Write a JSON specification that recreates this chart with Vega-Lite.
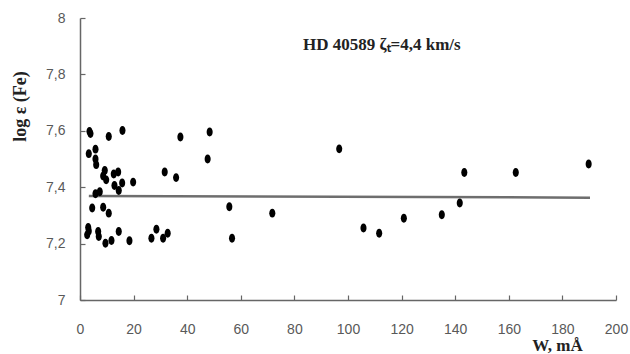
{
  "$schema": "https://vega.github.io/schema/vega-lite/v6.json",
  "width": 536,
  "height": 282,
  "autosize": "none",
  "padding": {"left": 80, "top": 18, "right": 14, "bottom": 54},
  "background": "white",
  "config": {"view": {"stroke": null}, "axis": {"grid": false}},
  "title": {
    "text": "HD 40589 ζₜ=4,4 km/s",
    "anchor": "start",
    "frame": "group",
    "dx": 223,
    "offset": -56,
    "baseline": "alphabetic",
    "font": "Liberation Serif",
    "fontSize": 17,
    "fontWeight": "bold",
    "color": "#222222"
  },
  "datasets": {
    "points": [
      {"w": 3.54, "loge": 7.598}, {"w": 3.91, "loge": 7.590}, {"w": 10.73, "loge": 7.580}, {"w": 15.84, "loge": 7.601},
      {"w": 3.28, "loge": 7.519}, {"w": 5.78, "loge": 7.535}, {"w": 5.78, "loge": 7.500}, {"w": 6.04, "loge": 7.480},
      {"w": 9.24, "loge": 7.459}, {"w": 8.65, "loge": 7.440}, {"w": 9.77, "loge": 7.426}, {"w": 12.60, "loge": 7.447},
      {"w": 14.24, "loge": 7.454}, {"w": 19.83, "loge": 7.418}, {"w": 12.86, "loge": 7.406}, {"w": 15.73, "loge": 7.415},
      {"w": 14.46, "loge": 7.388}, {"w": 5.78, "loge": 7.377}, {"w": 7.38, "loge": 7.384}, {"w": 31.61, "loge": 7.454},
      {"w": 4.55, "loge": 7.326}, {"w": 8.65, "loge": 7.329}, {"w": 10.73, "loge": 7.308}, {"w": 3.06, "loge": 7.257},
      {"w": 3.28, "loge": 7.245}, {"w": 2.68, "loge": 7.231}, {"w": 6.78, "loge": 7.243}, {"w": 7.01, "loge": 7.225},
      {"w": 9.50, "loge": 7.201}, {"w": 11.74, "loge": 7.211}, {"w": 14.46, "loge": 7.243}, {"w": 18.45, "loge": 7.210},
      {"w": 26.65, "loge": 7.219}, {"w": 28.51, "loge": 7.251}, {"w": 31.01, "loge": 7.219}, {"w": 32.72, "loge": 7.237},
      {"w": 37.46, "loge": 7.578}, {"w": 48.38, "loge": 7.596}, {"w": 47.63, "loge": 7.500}, {"w": 35.86, "loge": 7.434},
      {"w": 55.72, "loge": 7.331}, {"w": 71.75, "loge": 7.308}, {"w": 56.73, "loge": 7.219},
      {"w": 96.72, "loge": 7.536}, {"w": 105.78, "loge": 7.255}, {"w": 111.63, "loge": 7.237}, {"w": 120.84, "loge": 7.290},
      {"w": 135.0, "loge": 7.302}, {"w": 141.7, "loge": 7.344}, {"w": 143.4, "loge": 7.452}, {"w": 162.6, "loge": 7.452},
      {"w": 189.8, "loge": 7.482}
    ],
    "trend": [
      {"w": 3.3, "loge": 7.369},
      {"w": 190.3, "loge": 7.363}
    ]
  },
  "encoding": {
    "x": {
      "field": "w",
      "type": "quantitative",
      "scale": {"domain": [0, 200], "nice": false, "zero": false},
      "axis": {
        "values": [0, 20, 40, 60, 80, 100, 120, 140, 160, 180, 200],
        "title": "W, mÅ",
        "titleFont": "Liberation Serif",
        "titleFontWeight": "bold",
        "titleFontSize": 17,
        "titleColor": "#222222",
        "titleX": 477,
        "titleY": 45,
        "titleAlign": "center",
        "titleBaseline": "middle",
        "labelFont": "Liberation Sans",
        "labelFontSize": 14,
        "labelColor": "#595959",
        "labelPadding": 27,
        "labelFlush": false,
        "labelBaseline": "top",
        "tickSize": -5,
        "tickColor": "#666666",
        "domainColor": "#666666",
        "domainWidth": 1.5,
        "tickWidth": 1.2
      }
    },
    "y": {
      "field": "loge",
      "type": "quantitative",
      "scale": {"domain": [7, 8], "nice": false, "zero": false},
      "axis": {
        "values": [7, 7.2, 7.4, 7.6, 7.8, 8],
        "labelExpr": "replace(format(datum.value, '.1~f'), '.', ',')",
        "title": "log ε  (Fe)",
        "titleFont": "Liberation Serif",
        "titleFontWeight": "bold",
        "titleFontSize": 18,
        "titleColor": "#222222",
        "titleX": -60,
        "titleY": 88,
        "titleAngle": -90,
        "titleAlign": "center",
        "titleBaseline": "middle",
        "labelFont": "Liberation Sans",
        "labelFontSize": 14,
        "labelColor": "#595959",
        "labelPadding": 20,
        "labelFlush": false,
        "tickSize": -5,
        "tickColor": "#666666",
        "domainColor": "#666666",
        "domainWidth": 1.5,
        "tickWidth": 1.2
      }
    }
  },
  "layer": [
    {
      "data": {"name": "trend"},
      "mark": {"type": "line", "color": "#6e6e6e", "strokeWidth": 2.5}
    },
    {
      "data": {"name": "points"},
      "mark": {
        "type": "point",
        "filled": true,
        "color": "black",
        "opacity": 1,
        "shape": "M0,-1A0.68,1,0,1,1,0,1A0.68,1,0,1,1,0,-1Z",
        "size": 80
      }
    }
  ]
}
